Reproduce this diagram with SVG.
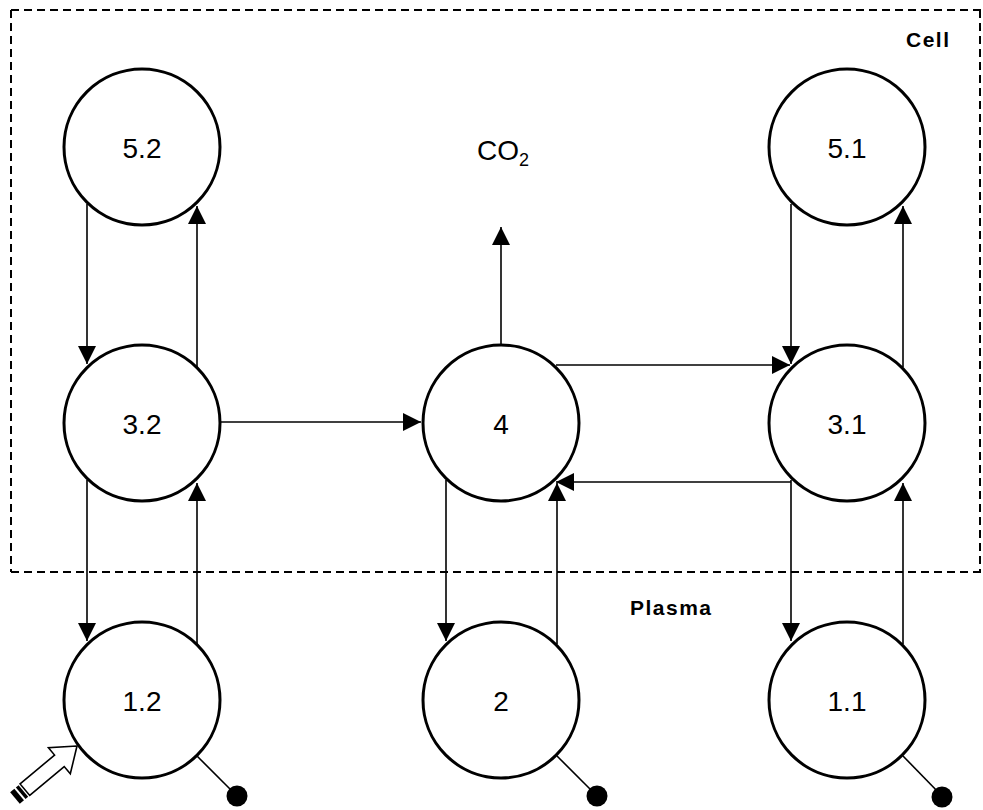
<svg xmlns="http://www.w3.org/2000/svg" width="983" height="810" viewBox="0 0 983 810">
  <style>
    .node circle { fill: #fff; stroke: #000; stroke-width: 3; }
    .node text { font-family: "Liberation Sans", Arial, sans-serif; font-size: 28px; text-anchor: middle; fill: #000; }
    .flow { stroke: #000; stroke-width: 1.6; fill: none; marker-end: url(#head); }
    .plain { stroke: #000; stroke-width: 1.6; fill: none; }
    .border { stroke: #000; stroke-width: 2; fill: none; stroke-dasharray: 8 5; }
    .zone { font-family: "Liberation Sans", Arial, sans-serif; font-weight: bold; font-size: 21px; letter-spacing: 1.5px; fill: #000; }
    .label { font-family: "Liberation Sans", Arial, sans-serif; font-size: 28px; fill: #000; }
  </style>
  <defs>
    <marker id="head" viewBox="0 0 18 18" refX="18" refY="9" markerWidth="18" markerHeight="18" markerUnits="userSpaceOnUse" orient="auto">
      <path d="M0,0 L18,9 L0,18 z" fill="#000"/>
    </marker>
  </defs>

  <rect width="983" height="810" fill="#fff"/>

  <!-- compartment boundaries -->
  <g id="compartments">
    <path class="border" d="M11,10 H981 M11,10 V572 M980,10 V572 M11,572 H983"/>
    <text class="zone" x="906" y="47">Cell</text>
    <text class="zone" x="630" y="615">Plasma</text>
  </g>

  <!-- connectors -->
  <g id="connectors">
    <!-- left column -->
    <line class="flow" x1="87" y1="204" x2="87" y2="364"/>
    <line class="flow" x1="197" y1="367" x2="197" y2="206"/>
    <line class="flow" x1="87" y1="480" x2="87" y2="641"/>
    <line class="flow" x1="197" y1="644" x2="197" y2="483"/>
    <line class="flow" x1="221" y1="422" x2="421" y2="422"/>
    <!-- middle column -->
    <line class="flow" x1="501" y1="344" x2="501" y2="227"/>
    <line class="flow" x1="556" y1="365" x2="790" y2="365"/>
    <line class="flow" x1="791" y1="482" x2="556" y2="482"/>
    <line class="flow" x1="446" y1="480" x2="446" y2="641"/>
    <line class="flow" x1="557" y1="644" x2="557" y2="483"/>
    <!-- right column -->
    <line class="flow" x1="791" y1="204" x2="791" y2="364"/>
    <line class="flow" x1="903" y1="367" x2="903" y2="206"/>
    <line class="flow" x1="791" y1="480" x2="791" y2="641"/>
    <line class="flow" x1="903" y1="644" x2="903" y2="483"/>
    <!-- tethers to bound sites -->
    <line class="plain" x1="197" y1="756" x2="237" y2="796"/>
    <line class="plain" x1="557" y1="756" x2="597" y2="796"/>
    <line class="plain" x1="903" y1="756" x2="942" y2="796"/>
  </g>

  <text class="label" x="477" y="160">CO<tspan font-size="18" dy="6">2</tspan></text>

  <!-- nodes -->
  <g id="n52" class="node"><circle cx="142" cy="147" r="78"/><text x="142" y="158">5.2</text></g>
  <g id="n32" class="node"><circle cx="142" cy="423" r="78"/><text x="142" y="434">3.2</text></g>
  <g id="n12" class="node"><circle cx="142" cy="700" r="78"/><text x="142" y="711">1.2</text></g>
  <g id="n4" class="node"><circle cx="501" cy="423" r="78"/><text x="501" y="434">4</text></g>
  <g id="n2" class="node"><circle cx="501" cy="700" r="78"/><text x="501" y="711">2</text></g>
  <g id="n51" class="node"><circle cx="847" cy="147" r="78"/><text x="847" y="158">5.1</text></g>
  <g id="n31" class="node"><circle cx="847" cy="423" r="78"/><text x="847" y="434">3.1</text></g>
  <g id="n11" class="node"><circle cx="847" cy="700" r="78"/><text x="847" y="711">1.1</text></g>

  <!-- bound sites -->
  <g id="dots" fill="#000">
    <circle cx="237" cy="796" r="10.5"/>
    <circle cx="597" cy="796" r="10.5"/>
    <circle cx="942" cy="797" r="10.5"/>
  </g>

  <!-- input arrow into 1.2 -->
  <g id="input" transform="translate(77,746) rotate(-40)">
    <path d="M0,0 L-23,-17 L-23,-7.5 L-68,-7.5 L-68,7.5 L-23,7.5 L-23,17 Z" fill="#fff" stroke="#000" stroke-width="1.6" stroke-linejoin="miter"/>
    <rect x="-73.5" y="-7.5" width="3.5" height="15" fill="#000"/>
    <rect x="-81" y="-7.5" width="5.5" height="15" fill="#000"/>
  </g>
</svg>
